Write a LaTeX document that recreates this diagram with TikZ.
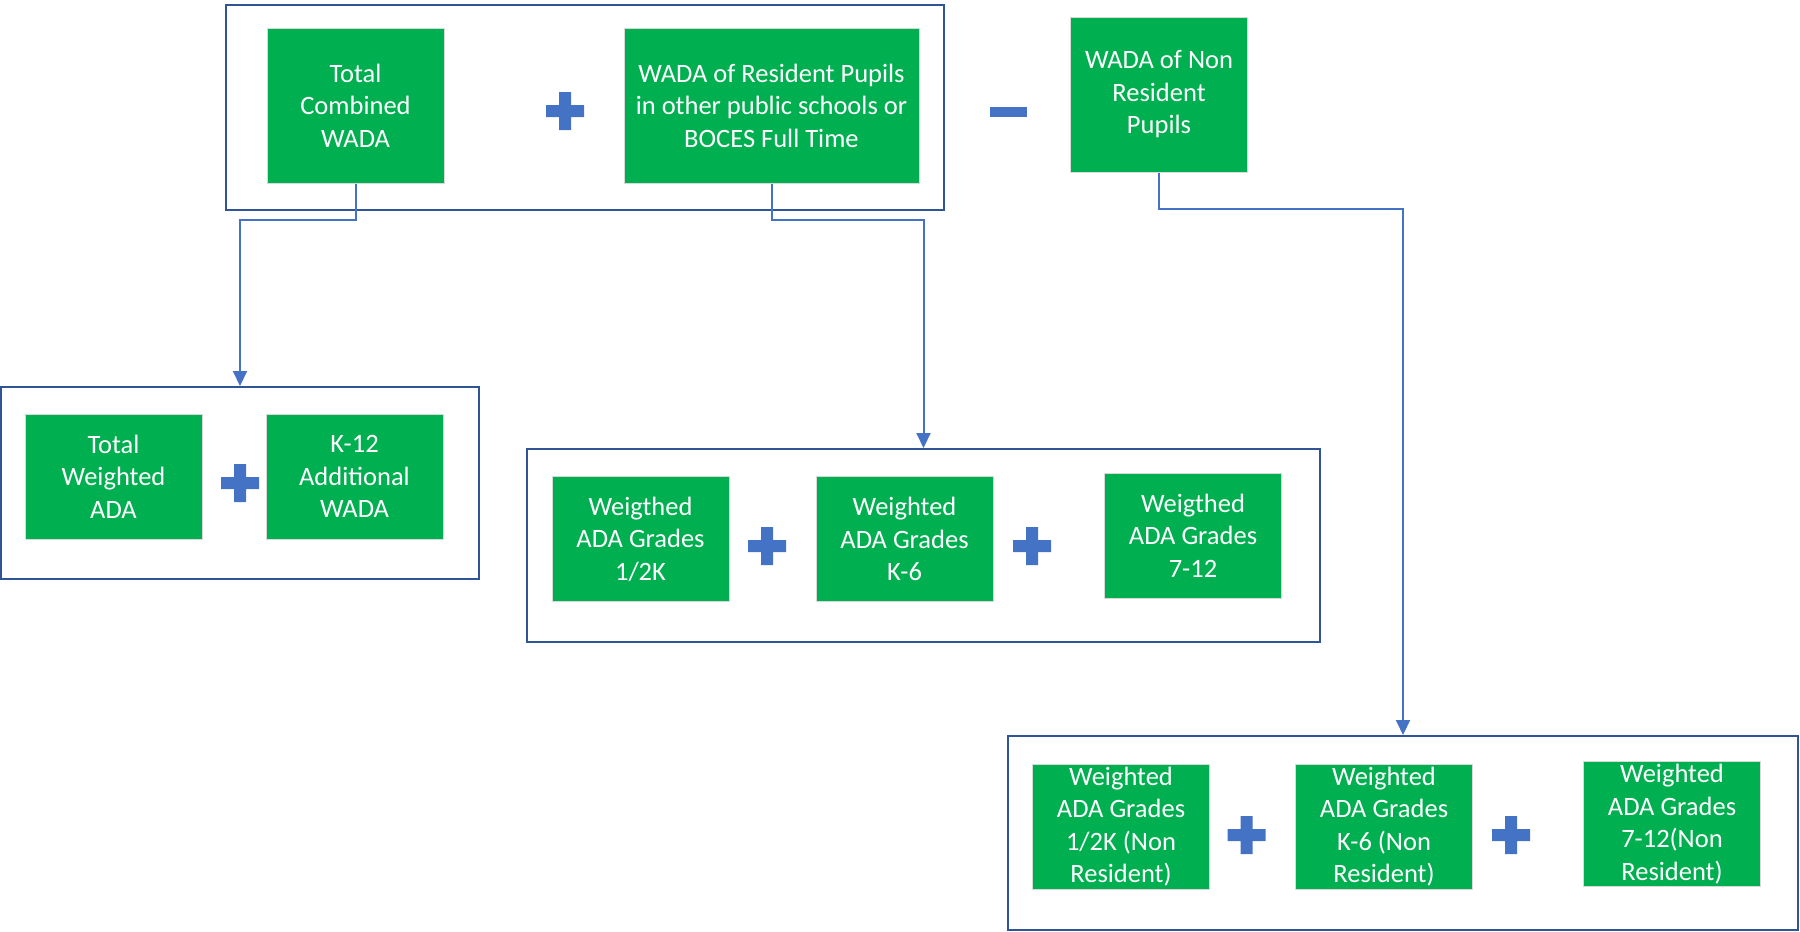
\documentclass[tikz,border=0pt]{standalone}
\usepackage{fontspec}
\setmainfont{Carlito}
\definecolor{boxgreen}{RGB}{0,176,80}
\definecolor{linkblue}{RGB}{68,114,196}
\definecolor{frameblue}{RGB}{47,85,151}
\usetikzlibrary{arrows.meta}
\usetikzlibrary{positioning}
\tikzset{
  greenbox/.style={
    fill=boxgreen, draw=black!15, line width=1pt,
    text=white, align=center, inner sep=0pt,
    minimum width=177pt, minimum height=125pt,
    font=\fontsize{26.5}{32.5}\selectfont
  },
  groupbox/.style={draw=frameblue, line width=2pt, inner sep=0pt},
  arrow/.style={-{Triangle[width=14pt,length=15pt]}, draw=linkblue, line width=2pt},
  plussign/.pic={
    \fill[linkblue] (-19,-6) rectangle (19,6) (-6,-19) rectangle (6,19);
  },
  minussign/.pic={
    \fill[linkblue] (-18.5,-5) rectangle (18.5,5);
  }
}

\begin{document}
\begin{tikzpicture}[x=1pt, y=-1pt]
  \useasboundingbox (0,0) rectangle (1800,932);

  % group frames
  \node[groupbox, minimum width=718pt, minimum height=205pt] (topgroup) at (585,107.5) {};
  \node[groupbox, minimum width=478pt, minimum height=192pt] (adagroup) at (240,483) {};
  \node[groupbox, minimum width=793pt, minimum height=193pt] (resgroup) at (923.5,545.5) {};
  \node[groupbox, minimum width=790pt, minimum height=194pt] (nrgroup) at (1403,833) {};

  % top row
  \node[greenbox, minimum height=155pt] (combined) at (355.5,105.5) {Total\\Combined\\WADA};
  \node[greenbox, minimum width=295pt, minimum height=155pt] (resident) at (771.5,105.5)
    {WADA of Resident Pupils\\in other public schools or\\BOCES Full Time};
  \node[greenbox, minimum height=155pt] (nonres) at (1159,94.5) {WADA of Non\\Resident\\Pupils};

  % left group
  \node[greenbox] (totalada) at (113.5,476.5) {Total\\Weighted\\ADA};
  \node[greenbox] (addwada) at (354.5,476.5) {K-12\\Additional\\WADA};

  % resident grades
  \node[greenbox] (halfk) at (640.5,539) {Weigthed\\ADA Grades\\1/2K};
  \node[greenbox] (ksix) at (904.5,539) {Weighted\\ADA Grades\\K-6};
  \node[greenbox] (upper) at (1193,535.5) {Weigthed\\ADA Grades\\7-12};

  % non resident grades
  \node[greenbox] (nrhalfk) at (1121,826.5) {Weighted\\ADA Grades\\1/2K (Non\\Resident)};
  \node[greenbox] (nrksix) at (1384,826.5) {Weighted\\ADA Grades\\K-6 (Non\\Resident)};
  \node[greenbox] (nrupper) at (1672,824) {Weighted\\ADA Grades\\7-12(Non\\Resident)};

  % operators
  \foreach \p in {(565,111),(240,483),(767,546),(1032,546),(1246.5,835),(1511,835)}
    \pic at \p {plussign};
  \pic at (1008,112) {minussign};

  % connectors
  \draw[arrow] (combined.south) -- ++(0,36) -| (adagroup.north);
  \draw[arrow] (resident.south) -- ++(0,36) -| (resgroup.north);
  \draw[arrow] (nonres.south) -- ++(0,36) -| (nrgroup.north);
\end{tikzpicture}
\end{document}
